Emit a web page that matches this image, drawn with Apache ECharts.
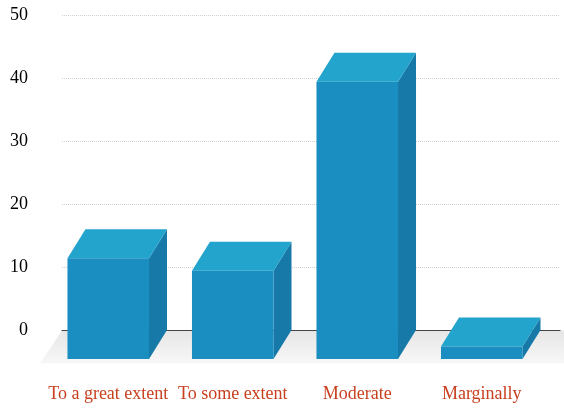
<!DOCTYPE html>
<html>
<head>
<meta charset="utf-8">
<script src="https://cdn.jsdelivr.net/npm/echarts@6/dist/echarts.min.js"></script>
<style>html,body{margin:0;padding:0;background:#fff}#c{width:564px;height:410px}</style>
</head>
<body>
<div id="c"></div>
<script>
const categories = ['To a great extent', 'To some extent', 'Moderate', 'Marginally'];
const values = [16, 14, 44, 2];
const yTicks = [0, 10, 20, 30, 40, 50];

const DX = 18, DY = 29;
const chart = echarts.init(document.getElementById('c'));

function renderFloor(params, api) {
  const cs = params.coordSys;
  const y0 = api.coord([0, 0])[1] + 0.5;
  return {
    type: 'polygon',
    shape: { points: [[cs.x, y0], [cs.x + cs.width + 40, y0], [cs.x + cs.width + 40 - DX, y0 + DY + 4], [cs.x - DX - 4, y0 + DY + 4]] },
    style: { fill: new echarts.graphic.LinearGradient(0, 0, 0, 1, [{ offset: 0, color: '#e6e6e6' }, { offset: 1, color: '#f7f7f7' }]) }
  };
}

function renderBar(params, api) {
  const idx = api.value(0);
  const v = api.value(1);
  const top = api.coord([idx, v]);
  const base = api.coord([idx, 0]);
  const w = api.size([1, 0])[0] * 0.655;
  const c = top[0] + 2;
  const x0 = c - w / 2 - DX, x1 = c + w / 2 - DX;
  const yT = top[1] + DY, yB = base[1] + DY;
  return {
    type: 'group',
    children: [
      { type: 'polygon', shape: { points: [[x1, yT], [x1 + DX, yT - DY], [x1 + DX, yB - DY], [x1, yB]] }, style: { fill: '#1679a8' } },
      { type: 'polygon', shape: { points: [[x0, yT], [x1, yT], [x1 + DX, yT - DY], [x0 + DX, yT - DY]] }, style: { fill: '#22a4cc' } },
      { type: 'rect', shape: { x: x0, y: yT, width: w, height: yB - yT }, style: { fill: '#1a8ec0' } }
    ]
  };
}

chart.setOption({
  animation: false,
  backgroundColor: '#fff',
  grid: { left: 62, right: 4, top: 15, bottom: 80 },
  xAxis: {
    type: 'category',
    data: categories,
    axisLine: { show: true, lineStyle: { color: '#444', width: 1.2 } },
    axisTick: { show: false },
    axisLabel: {
      margin: 55,
      padding: [0, 32, 0, 0],
      interval: 0,
      fontFamily: 'Liberation Serif',
      fontSize: 18,
      color: '#c8401f'
    }
  },
  yAxis: {
    type: 'value',
    min: yTicks[0],
    max: yTicks[yTicks.length - 1],
    interval: 10,
    axisLine: { show: false },
    axisTick: { show: false },
    axisLabel: { margin: 34, fontFamily: 'Liberation Serif', fontSize: 18, color: '#000' },
    splitLine: { lineStyle: { color: '#d0d0d0', type: 'dotted', width: 1 } }
  },
  series: [
    { type: 'custom', z: -1, renderItem: renderFloor, data: [[0, 0]], silent: true },
    { type: 'custom', renderItem: renderBar, data: values.map((v, i) => [i, v]) }
  ]
});
</script>
</body>
</html>
